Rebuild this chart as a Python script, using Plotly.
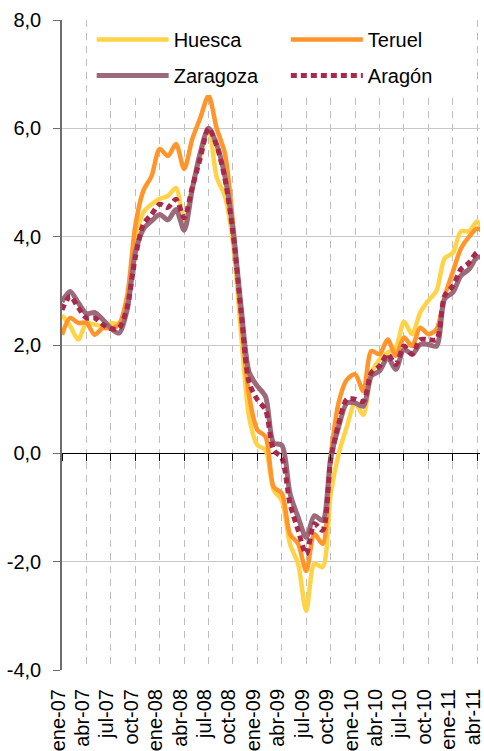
import plotly.graph_objects as go

# Months: ene-07 ... may-11 (monthly)
mes = ["ene", "feb", "mar", "abr", "may", "jun", "jul", "ago", "sep", "oct", "nov", "dic"]
meses = [f"{mes[i % 12]}-{7 + i // 12:02d}" for i in range(53)]
x = list(range(len(meses)))

huesca = [2.55, 2.35, 2.1, 2.4, 2.38, 2.35, 2.4, 2.4, 2.75, 3.95, 4.45, 4.6, 4.7, 4.75, 4.9, 4.3,
          4.9, 5.5, 6.0, 5.1, 4.75, 3.9, 2.2, 0.65, 0.15, 0.06, -0.68, -0.87, -1.67, -2.04, -2.91,
          -2.04, -2.1, -0.75, 0.0, 0.5, 0.93, 0.71, 1.49, 1.73, 1.86, 1.95, 2.43, 2.2, 2.6, 2.82,
          3.0, 3.6, 3.7, 4.1, 4.1, 4.28, 4.0]
teruel = [2.19, 2.5, 2.41, 2.41, 2.19, 2.31, 2.31, 2.38, 2.9, 4.2, 4.85, 5.12, 5.62, 5.49, 5.71, 5.25,
          5.8, 6.2, 6.6, 6.0, 5.54, 4.25, 2.5, 1.05, 0.43, 0.31, -0.62, -0.74, -1.49, -1.67, -2.17,
          -1.49, -1.67, -0.06, 0.95, 1.36, 1.46, 1.15, 1.89, 1.83, 2.1, 1.8, 2.14, 1.98, 2.32, 2.2,
          2.29, 2.9, 3.35, 3.78, 4.0, 4.15, 4.05]
zaragoza = [2.8, 2.99, 2.78, 2.58, 2.6, 2.47, 2.31, 2.22, 2.65, 3.7, 4.14, 4.29, 4.41, 4.31, 4.5, 4.12,
            4.88, 5.56, 6.0, 5.7, 5.12, 4.14, 2.7, 1.49, 1.24, 1.05, 0.19, 0.15, -0.74, -1.18, -1.55,
            -1.15, -1.24, -0.1, 0.5, 0.93, 0.93, 0.87, 1.43, 1.52, 1.77, 1.55, 1.92, 1.83, 2.01, 2.01,
            1.98, 2.85, 2.97, 3.28, 3.4, 3.62, 3.6]
aragon = [2.65, 2.9, 2.69, 2.5, 2.5, 2.38, 2.3, 2.31, 2.7, 3.61, 4.23, 4.41, 4.6, 4.54, 4.69, 4.35,
          4.91, 5.46, 6.0, 5.68, 5.08, 4.07, 2.6, 1.3, 0.99, 0.8, 0.06, -0.09, -0.93, -1.42, -1.86,
          -1.3, -1.42, -0.12, 0.56, 1.0, 1.0, 0.96, 1.49, 1.61, 1.83, 1.64, 1.98, 1.83, 2.1, 2.1,
          2.1, 2.91, 3.09, 3.4, 3.52, 3.71, 3.7]

x_tickvals = x[::3][:18]
x_ticktext = meses[::3][:18]
y_tickvals = [-4, -2, 0, 2, 4, 6, 8]
y_ticktext = ["-4,0", "-2,0", "0,0", "2,0", "4,0", "6,0", "8,0"]

FONT = "Arial, Liberation Sans, sans-serif"

fig = go.Figure()
fig.add_trace(go.Scatter(x=x, y=huesca, name="Huesca", mode="lines", legend="legend",
                         line=dict(color="#FFD347", width=4.5, shape="spline", smoothing=0.8)))
fig.add_trace(go.Scatter(x=x, y=teruel, name="Teruel", mode="lines", legend="legend2",
                         line=dict(color="#FF952B", width=4.5, shape="spline", smoothing=0.8)))
fig.add_trace(go.Scatter(x=x, y=zaragoza, name="Zaragoza", mode="lines", legend="legend3",
                         line=dict(color="#9C6A78", width=5, shape="spline", smoothing=0.8)))
fig.add_trace(go.Scatter(x=x, y=aragon, name="Aragón", mode="lines", xaxis="x2", legend="legend4",
                         line=dict(color="#A8294C", width=5, dash="6px,4px", shape="spline", smoothing=0.8)))

legend_common = dict(orientation="h", xanchor="left", yanchor="top",
                     bgcolor="white", borderwidth=0, font=dict(size=20, color="black"),
                     itemwidth=72, traceorder="normal")
col1_x, col2_x = 0.071, 0.5355
row1_y, row2_y = 1.0, 0.9446

xr = [0, 51.34]
fig.update_layout(
    width=484, height=751,
    margin=dict(l=62, r=0, t=20, b=81),
    paper_bgcolor="white", plot_bgcolor="white",
    font=dict(family=FONT, size=20, color="black"),
    showlegend=True,
    legend=dict(x=col1_x, y=row1_y, entrywidth=112, **legend_common),
    legend2=dict(x=col2_x, y=row1_y, entrywidth=95, **legend_common),
    legend3=dict(x=col1_x, y=row2_y, entrywidth=112, **legend_common),
    legend4=dict(x=col2_x, y=row2_y, entrywidth=95, **legend_common),
    xaxis=dict(range=xr, tickvals=x_tickvals, ticktext=x_ticktext, tickangle=-90,
               showgrid=True, gridcolor="#BDBDBD", gridwidth=1, griddash="7px,6px",
               showline=False, zeroline=False, ticks="", ticklabelstandoff=14,
               ticklabelshift=-4, ticklabeloverflow="allow",
               tickfont=dict(size=20, color="black")),
    xaxis2=dict(range=xr, overlaying="x", anchor="free", position=1/3,
                tickvals=x_tickvals, ticks="outside", ticklen=7, tickcolor="black", tickwidth=1,
                showticklabels=False, showgrid=False, showline=False, zeroline=False),
    yaxis=dict(range=[-4, 8], tickvals=y_tickvals, ticktext=y_ticktext,
               showgrid=True, gridcolor="#C8C8C8", gridwidth=1,
               zeroline=True, zerolinecolor="black", zerolinewidth=1,
               showline=True, linecolor="#6E6E6E", linewidth=1.5,
               ticks="outside", ticklen=7, tickcolor="#6E6E6E", ticklabelstandoff=8,
               tickfont=dict(size=20, color="black")),
)

fig.write_html("out.html", config={"displayModeBar": False},
               post_script="document.body.style.margin='0px';")
